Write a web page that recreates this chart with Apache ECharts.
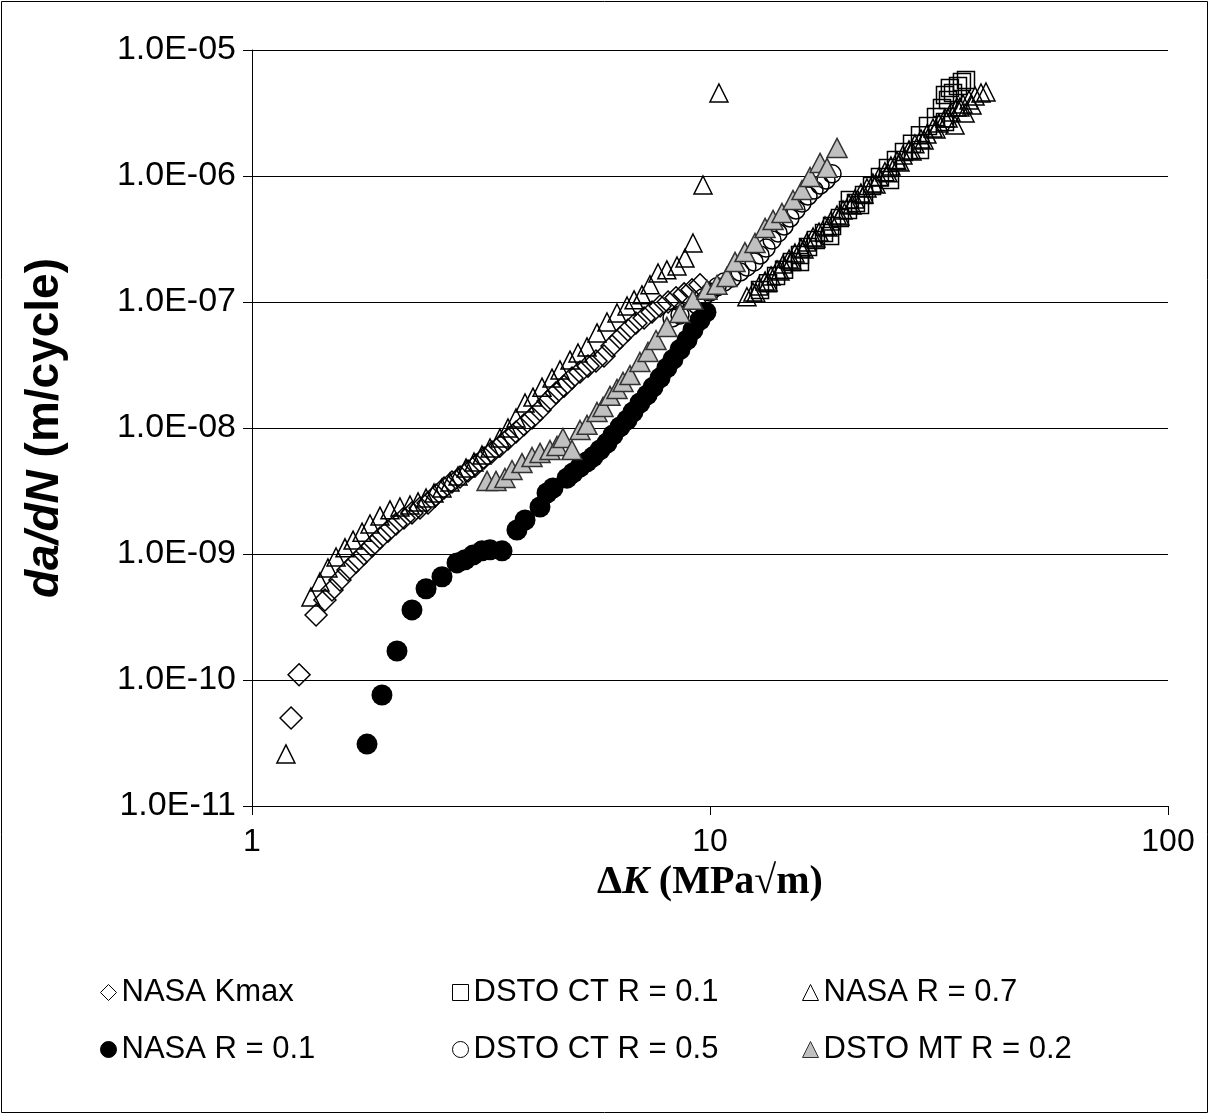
<!DOCTYPE html>
<html>
<head>
<meta charset="utf-8">
<script src="https://cdn.jsdelivr.net/npm/echarts@6/dist/echarts.min.js"></script>
<style>
html,body{margin:0;padding:0;background:#fff;}
#chart{width:1210px;height:1115px;}
</style>
</head>
<body>
<div id="chart"></div>
<script>
// ---------- data (ΔK in MPa√m, da/dN in m/cycle) ----------
const xTickLabels = ['1', '10', '100'];
const yTickLabels = ['1.0E-11','1.0E-10','1.0E-09','1.0E-08','1.0E-07','1.0E-06','1.0E-05'];
const seriesNames = ['NASA Kmax','DSTO CT R = 0.1','NASA R = 0.7','NASA R = 0.1','DSTO CT R = 0.5','DSTO MT R = 0.2'];

const nasaKmaxK = [1.217,1.267,1.380,1.443,1.495,1.556,1.620,1.687,1.756,1.828,1.903,1.981,2.063,2.147,2.235,2.327,2.423,2.522,2.626,2.733,2.846,2.962,3.084,3.211,3.342,3.479,3.622,3.771,3.926,4.087,4.255,4.430,4.611,4.800,4.997,5.202,5.415,5.638,5.869,6.11,6.36,6.62,6.89,7.18,7.471,7.78,8.10,8.43,8.78,9.135,9.51];
const nasaKmaxRate = [4.99e-11,1.10e-10,3.28e-10,4.31e-10,5.18e-10,6.22e-10,7.46e-10,8.64e-10,1.00e-9,1.16e-9,1.34e-9,1.52e-9,1.73e-9,1.93e-9,2.12e-9,2.32e-9,2.54e-9,2.94e-9,3.34e-9,3.73e-9,4.08e-9,4.56e-9,5.08e-9,5.78e-9,6.45e-9,7.20e-9,8.19e-9,9.30e-9,1.06e-8,1.20e-8,1.39e-8,1.64e-8,1.90e-8,2.15e-8,2.49e-8,2.78e-8,3.10e-8,3.40e-8,3.73e-8,4.48e-8,5.18e-8,6.00e-8,6.81e-8,7.46e-8,8.33e-8,9.30e-8,1.00e-7,1.08e-7,1.16e-7,1.25e-7,1.37e-7];

const dstoCT01K = [12.86,13.39,13.94,14.51,15.10,15.72,16.37,17.03,17.74,18.47,19.22,20.01,20.83,21.69,22.58,23.50,24.47,25.47,26.52,27.61,28.74,29.92,31.15,32.10,33.09,33.93,34.79,35.49,36.22,
  15.72,18.29,20.2,21.26,24.72,28.74,32.59,33.4,32.59];
const dstoCT01Rate = [1.245e-7,1.41e-7,1.61e-7,1.80e-7,2.08e-7,2.36e-7,2.73e-7,3.10e-7,3.53e-7,4.01e-7,4.64e-7,5.37e-7,6.10e-7,7.07e-7,8.33e-7,9.82e-7,1.157e-6,1.34e-6,1.55e-6,1.80e-6,2.11e-6,2.49e-6,2.94e-6,3.46e-6,4.01e-6,4.56e-6,5.18e-6,5.57e-6,5.78e-6,
  2.08e-7,3.34e-7,6.45e-7,5.89e-7,9.29e-7,1.61e-6,2.68e-6,5.0e-6,4.4e-6];

const nasaR07K = [1.186,1.345,1.407,1.465,1.526,1.596,1.662,1.739,1.810,1.903,2.001,2.104,2.213,2.304,2.399,2.497,2.599,2.706,2.817,2.933,3.053,3.178,3.309,3.479,3.622,3.771,3.946,4.107,4.297,4.519,4.704,4.947,5.150,5.388,5.666,5.958,6.266,6.59,6.827,7.103,7.396,7.701,8.05,8.472,8.819,9.18,9.654,10.46,
  12.04,12.41,12.79,13.19,13.59,14.01,14.44,14.88,15.33,15.80,16.28,16.79,17.30,17.83,18.37,18.94,19.52,20.11,20.73,21.36,22.02,22.69,23.39,24.10,24.84,25.60,26.38,27.19,28.02,28.88,29.76,30.68,31.62,32.59,33.59,34.62,35.68,36.77,37.90,39.06,40.05,34.27,36.05,37.33,
  12.60,13.39,14.22,15.10,16.04,17.03,18.10,19.22,20.42,21.69,23.04,24.47,25.99,27.61,29.33,31.15,33.09,35.14];
const nasaR07Rate = [2.59e-11,4.56e-10,6.0e-10,7.74e-10,9.46e-10,1.12e-9,1.29e-9,1.49e-9,1.73e-9,2.0e-9,2.24e-9,2.36e-9,2.45e-9,2.59e-9,2.78e-9,3.05e-9,3.34e-9,3.73e-9,4.16e-9,4.81e-9,5.37e-9,6.1e-9,6.94e-9,8.33e-9,1.0e-8,1.2e-8,1.58e-8,1.76e-8,2.11e-8,2.49e-8,2.89e-8,3.46e-8,3.94e-8,4.4e-8,5.68e-8,6.94e-8,8.18e-8,9.3e-8,1.04e-7,1.14e-7,1.37e-7,1.70e-7,1.80e-7,1.93e-7,2.23e-7,2.94e-7,8.48e-7,4.56e-6,
  1.10e-7,1.20e-7,1.34e-7,1.47e-7,1.61e-7,1.80e-7,2.0e-7,2.19e-7,2.45e-7,2.68e-7,2.99e-7,3.28e-7,3.59e-7,4.01e-7,4.40e-7,4.90e-7,5.37e-7,6.0e-7,6.57e-7,7.33e-7,8.03e-7,8.80e-7,9.82e-7,1.08e-6,1.20e-6,1.32e-6,1.47e-6,1.61e-6,1.80e-6,1.97e-6,2.15e-6,2.40e-6,2.63e-6,2.89e-6,3.22e-6,3.53e-6,3.73e-6,4.01e-6,4.32e-6,4.56e-6,4.64e-6,2.54e-6,3.16e-6,3.66e-6,
  1.18e-7,1.44e-7,1.76e-7,2.15e-7,2.63e-7,3.22e-7,3.94e-7,4.81e-7,5.89e-7,7.2e-7,8.64e-7,1.06e-6,1.29e-6,1.58e-6,1.93e-6,2.36e-6,2.89e-6,3.53e-6];

const nasaR01K = [1.783,1.922,2.073,2.235,2.399,2.599,2.803,2.918,3.038,3.178,3.309,3.515,3.789,3.946,4.254,4.407,4.542,4.873,5.022,5.202,5.388,5.553,5.752,5.958,6.14,6.36,6.59,6.79,7.03,7.29,7.51,7.78,8.05,8.30,8.60,8.91,9.18,9.51,9.80];
const nasaR01Rate = [3.1e-11,7.6e-11,1.7e-10,3.6e-10,5.3e-10,6.6e-10,8.5e-10,9.0e-10,9.8e-10,1.06e-9,1.08e-9,1.06e-9,1.55e-9,1.86e-9,2.36e-9,3.05e-9,3.34e-9,4.0e-9,4.4e-9,4.9e-9,5.4e-9,5.9e-9,6.7e-9,7.6e-9,8.8e-9,1.02e-8,1.16e-8,1.34e-8,1.58e-8,1.83e-8,2.11e-8,2.5e-8,3.0e-8,3.5e-8,4.2e-8,5.0e-8,6.0e-8,7.2e-8,8.3e-8];

const dstoCT05K = [8.26,8.60,9.04,9.37,9.654,10.0,10.36,10.73,11.17,11.63,12.04,12.48,12.86,13.26,13.66,14.08,14.51,14.95,15.41,15.88,16.37,16.87,17.39,17.92,18.47];
const dstoCT05Rate = [7.46e-8,7.89e-8,8.33e-8,9.46e-8,1.08e-7,1.2e-7,1.32e-7,1.44e-7,1.55e-7,1.73e-7,1.90e-7,2.08e-7,2.36e-7,2.68e-7,3.1e-7,3.53e-7,4.01e-7,4.64e-7,5.37e-7,6.1e-7,6.94e-7,7.74e-7,8.48e-7,9.29e-7,1.04e-6];

const dstoMT02K = [3.260,3.410,3.567,3.696,3.886,4.087,4.255,4.474,4.634,4.775,4.997,5.202,5.388,5.666,5.840,6.049,6.266,6.457,6.688,7.03,7.322,7.623,8.05,8.60,9.18,9.85,10.36,10.89,11.34,11.92,12.54,13.19,13.73,14.36,15.18,15.88,16.54,17.39,18.01,18.94];
const dstoMT02Rate = [3.80e-9,3.80e-9,4.01e-9,4.64e-9,5.27e-9,5.89e-9,6.34e-9,6.69e-9,7.2e-9,8.33e-9,6.69e-9,9.64e-9,1.06e-8,1.34e-8,1.47e-8,1.80e-8,2.04e-8,2.32e-8,2.63e-8,3.34e-8,4.01e-8,4.99e-8,6.34e-8,8.18e-8,1.04e-7,1.25e-7,1.37e-7,1.58e-7,2.08e-7,2.49e-7,2.94e-7,3.87e-7,4.48e-7,5.09e-7,6.45e-7,7.74e-7,9.82e-7,1.27e-6,1.16e-6,1.67e-6];

// ---------- build ----------
function pairs(xs, ys){ return xs.map((x,i)=>[x, ys[i]]); }
const FONT = "'Liberation Sans', Arial, sans-serif";
const SERIF = "'Liberation Serif', 'Times New Roman', serif";
const open = {color:'rgba(255,255,255,0)', borderColor:'#000', borderWidth:1.5, opacity:1};

const chart = echarts.init(document.getElementById('chart'), null, {renderer:'canvas'});

const legendBase = {
  orient:'horizontal', padding:0, itemWidth:16, itemHeight:16, selectedMode:false,
  textStyle:{fontSize:31, fontFamily:FONT, color:'#000'},
  itemStyle:{borderWidth:1}
};
const legendPos = [[100,977],[452,977],[802,977],[100,1034],[452,1034],[802,1034]];

const option = {
  animation:false,
  backgroundColor:'#fff',
  graphic:[{type:'rect', silent:true, z:-10, shape:{x:1.5,y:1.5,width:1206,height:1111}, style:{fill:'#fff', stroke:'#000', lineWidth:1}}],
  grid:{left:252, top:50, right:42, bottom:309},
  legend: seriesNames.map((n,i)=>Object.assign({}, legendBase, {data:[n], left:legendPos[i][0], top:legendPos[i][1]})),
  xAxis:{
    type:'log', logBase:10, min:1, max:100,
    axisLine:{show:true, onZero:false, lineStyle:{color:'#000', width:1}},
    axisTick:{show:true, inside:false, length:9, lineStyle:{color:'#000'}},
    minorTick:{show:false}, splitLine:{show:false},
    axisLabel:{fontSize:32, fontFamily:FONT, color:'#000', margin:20,
      formatter:v=>xTickLabels[Math.round(Math.log10(v))]},
    name:'{d|Δ}{k|K}{t| (MPa√m)}', nameLocation:'middle', nameGap:55,
    nameTextStyle:{rich:{
      d:{fontFamily:SERIF, fontWeight:'bold', fontSize:40, color:'#000'},
      k:{fontFamily:SERIF, fontWeight:'bold', fontStyle:'italic', fontSize:40, color:'#000'},
      t:{fontFamily:SERIF, fontWeight:'bold', fontSize:40, color:'#000'}
    }}
  },
  yAxis:{
    type:'log', logBase:10, min:1e-11, max:1e-5,
    axisLine:{show:true, lineStyle:{color:'#000', width:1}},
    axisTick:{show:true, inside:false, length:9, lineStyle:{color:'#000'}},
    minorTick:{show:false},
    splitLine:{show:true, lineStyle:{color:'#000', width:1}},
    axisLabel:{fontSize:34, fontFamily:FONT, color:'#000', margin:16,
      formatter:v=>yTickLabels[Math.round(Math.log10(v))+11]},
    name:'{i|da/dN}{n| (m/cycle)}', nameLocation:'middle', nameGap:184,
    nameTextStyle:{rich:{
      i:{fontFamily:FONT, fontWeight:'bold', fontStyle:'italic', fontSize:46, color:'#000'},
      n:{fontFamily:FONT, fontWeight:'bold', fontSize:46, color:'#000'}
    }}
  },
  series:[
    {name:seriesNames[0], type:'scatter', symbol:'diamond', symbolSize:22, itemStyle:open, data:pairs(nasaKmaxK, nasaKmaxRate)},
    {name:seriesNames[1], type:'scatter', symbol:'rect', symbolSize:17, itemStyle:open, data:pairs(dstoCT01K, dstoCT01Rate)},
    {name:seriesNames[2], type:'scatter', symbol:'triangle', symbolSize:[18,18], itemStyle:open, data:pairs(nasaR07K, nasaR07Rate)},
    {name:seriesNames[3], type:'scatter', symbol:'circle', symbolSize:21, itemStyle:{color:'#000', borderColor:'#000', borderWidth:0, opacity:1}, data:pairs(nasaR01K, nasaR01Rate)},
    {name:seriesNames[4], type:'scatter', symbol:'circle', symbolSize:18, itemStyle:open, data:pairs(dstoCT05K, dstoCT05Rate)},
    {name:seriesNames[5], type:'scatter', symbol:'triangle', symbolSize:[20,19], itemStyle:{color:'#c0c0c0', borderColor:'#333', borderWidth:1.5, opacity:1}, data:pairs(dstoMT02K, dstoMT02Rate)}
  ]
};
chart.setOption(option);
</script>
</body>
</html>
